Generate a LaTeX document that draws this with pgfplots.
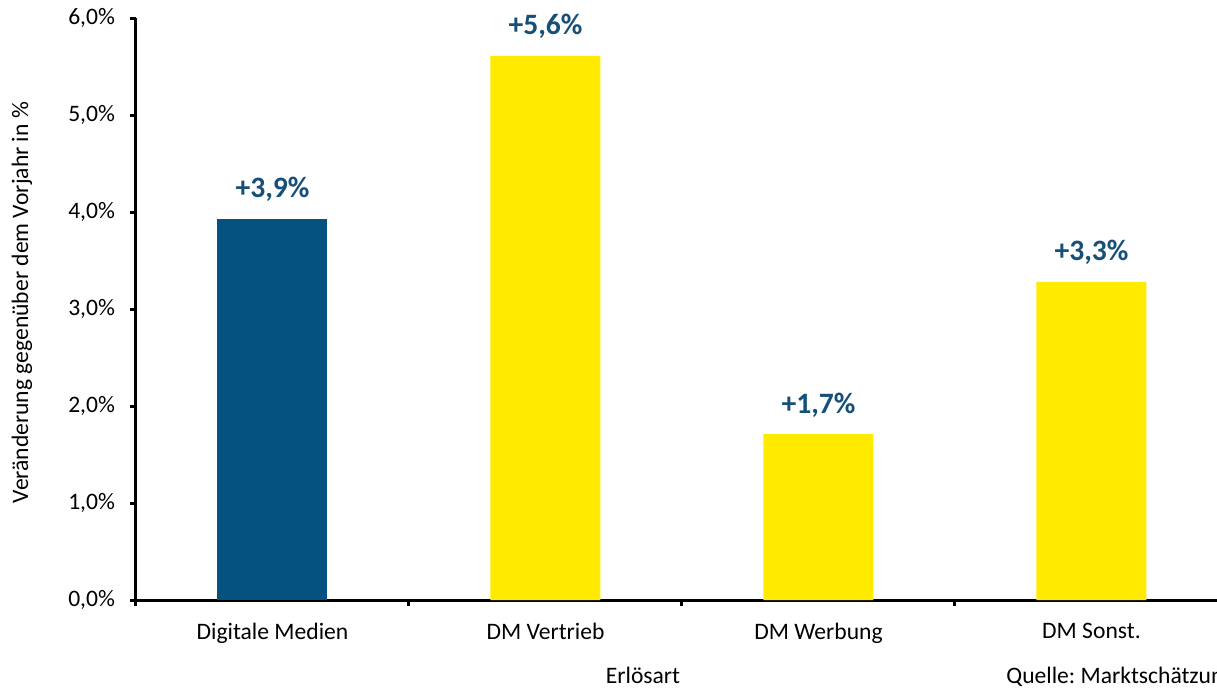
\documentclass[border=0pt]{standalone}
\usepackage{fontspec}
\setmainfont{Carlito}
\usepackage{pgfplots}
\pgfplotsset{compat=1.18}
\definecolor{dmblue}{RGB}{5,81,127}
\definecolor{dmyellow}{RGB}{255,234,0}
\definecolor{lblblue}{RGB}{22,80,120}
\frenchspacing
\begin{document}
\begin{tikzpicture}
\path[use as bounding box, clip] (0pt,0pt) rectangle (608.5pt,343.5pt);
\begin{axis}[
  at={(68pt,43.5pt)}, anchor=south west,
  scale only axis, width=546pt, height=291pt,
  xmin=-0.5, xmax=3.5, ymin=0, ymax=6,
  axis x line*=bottom, axis y line*=left,
  axis line style={line width=1.5pt, black},
  tick align=outside,
  xtick={0,1,2,3},
  xticklabels={Digitale Medien, DM Vertrieb, DM Werbung, DM Sonst.},
  major x tick style={draw=none},
  minor xtick={-0.5,0.5,1.5,2.5,3.5},
  minor x tick style={line width=1.5pt, black},
  minor tick length=3pt,
  major tick length=3pt,
  ytick={0,1,2,3,4,5,6},
  yticklabels={{0,0\%},{1,0\%},{2,0\%},{3,0\%},{4,0\%},{5,0\%},{6,0\%}},
  y tick style={line width=1.5pt, black},
  tick label style={font=\fontsize{11.8}{13}\selectfont},
  yticklabel style={xshift=-4pt},
  xticklabel style={yshift=-5pt},
  ylabel={Veränderung gegenüber dem Vorjahr in \%},
  ylabel style={font=\fontsize{11.8}{13}\selectfont, at={(axis description cs:-0.1044,0.511)}, anchor=center},
  ybar, bar width=55pt, bar shift=0pt,
  clip=false,
  nodes near coords, point meta=explicit symbolic,
  nodes near coords style={font=\bfseries\fontsize{14.8}{16}\selectfont, text=lblblue, anchor=base, yshift=10.5pt},
]
\addplot[fill=dmblue, draw=none] coordinates {(0,3.93) [+3,9\%]};
\addplot[fill=dmyellow, draw=none] coordinates {(1,5.61) [+5,6\%] (2,1.71) [+1,7\%] (3,3.28) [+3,3\%]};
\end{axis}
\node[font=\fontsize{11.8}{13}\selectfont, anchor=base, inner sep=0pt] at (321.5pt,2pt) {Erlösart};
\node[font=\fontsize{11.8}{13}\selectfont, anchor=base west, inner sep=0pt] at (503pt,2pt) {Quelle: Marktschätzung};
\end{tikzpicture}
\end{document}
